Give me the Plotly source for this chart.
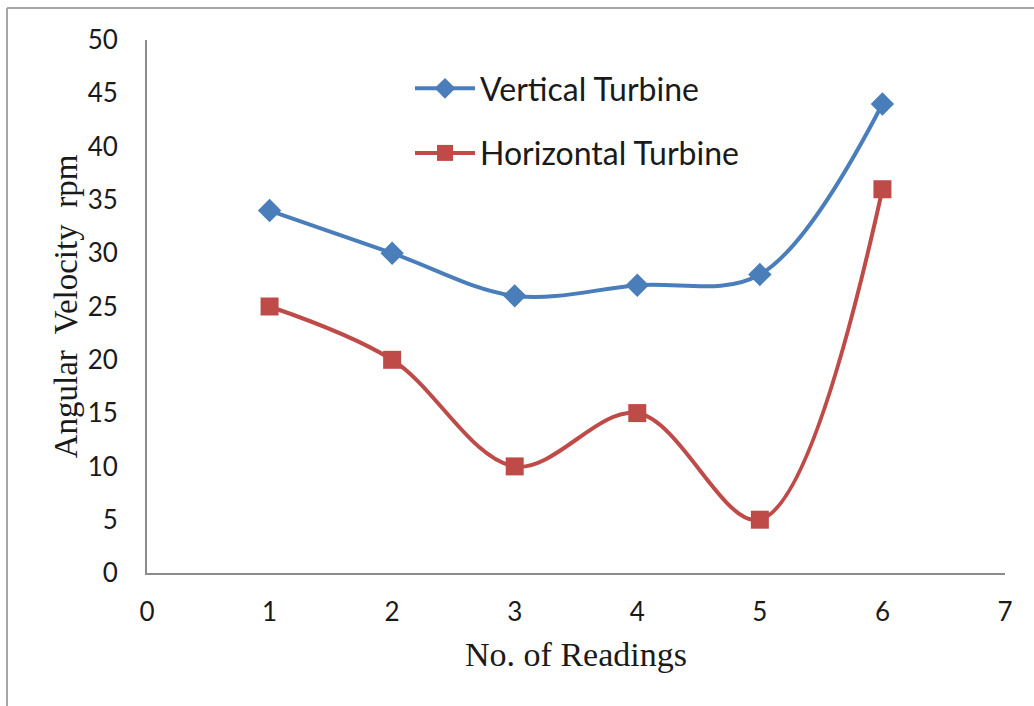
import plotly.graph_objects as go

readings = [1, 2, 3, 4, 5, 6]
vertical = [34, 30, 26, 27, 28, 44]
horizontal = [25, 20, 10, 15, 5, 36]
x_ticks = [0, 1, 2, 3, 4, 5, 6, 7]
y_ticks = [0, 5, 10, 15, 20, 25, 30, 35, 40, 45, 50]

BLUE = "#4A7EBB"
RED = "#BE4B48"

fig = go.Figure()
fig.add_trace(go.Scatter(
    x=readings, y=vertical, name="Vertical Turbine", mode="lines+markers",
    line=dict(color=BLUE, width=4, shape="spline", smoothing=1),
    marker=dict(symbol="diamond", size=18, color=BLUE),
    legendgroup="v",
))
fig.add_trace(go.Scatter(
    x=readings, y=horizontal, name="Horizontal Turbine", mode="lines+markers",
    line=dict(color=RED, width=4, shape="spline", smoothing=1),
    marker=dict(symbol="square", size=18, color=RED),
    legendgroup="h",
))

L, R, T, B = 147, 29, 40, 133
W, H = 1034, 706
pw, ph = W - L - R, H - T - B
px = lambda p: (p - L) / pw
py = lambda p: (H - B - p) / ph

SANS = "Lato, Liberation Sans, sans-serif"
SERIF = "Liberation Serif, Times New Roman, serif"

fig.update_layout(
    width=W, height=H, autosize=False,
    margin=dict(l=L, r=R, t=T, b=B, pad=0),
    paper_bgcolor="white", plot_bgcolor="white",
    font=dict(family=SANS, color="#1a1a1a"),
    showlegend=True,
    legend=dict(
        x=px(410), y=py(61), xanchor="left", yanchor="top",
        font=dict(size=32, family=SANS, color="#1a1a1a"),
        tracegroupgap=20, itemwidth=60, bgcolor="rgba(0,0,0,0)",
    ),
    xaxis=dict(
        range=[0, 7], tickvals=x_ticks, showgrid=False, zeroline=False,
        showline=True, linecolor="#8c8c8c", linewidth=2,
        ticks="outside", ticklen=15, tickcolor="rgba(0,0,0,0)",
        tickfont=dict(size=26, family=SANS),
        title=dict(text="No. of Readings", standoff=16,
                   font=dict(family=SERIF, size=34, color="#1a1a1a")),
    ),
    yaxis=dict(
        range=[0, 50], tickvals=y_ticks, showgrid=False, zeroline=False,
        showline=True, linecolor="#8c8c8c", linewidth=2,
        ticks="outside", ticklen=22, tickcolor="rgba(0,0,0,0)",
        tickfont=dict(size=26, family=SANS),
        title=dict(text="Angular  Velocity  rpm", standoff=0,
                   font=dict(family=SERIF, size=33, color="#1a1a1a")),
    ),
    shapes=[
        dict(type="line", xref="paper", yref="paper", x0=px(7), x1=px(7), y0=py(8), y1=py(706),
             line=dict(color="#a6a6a6", width=2)),
        dict(type="line", xref="paper", yref="paper", x0=px(7), x1=px(1034), y0=py(8), y1=py(8),
             line=dict(color="#a6a6a6", width=2)),
    ],
)

fig.write_html("out.html")
